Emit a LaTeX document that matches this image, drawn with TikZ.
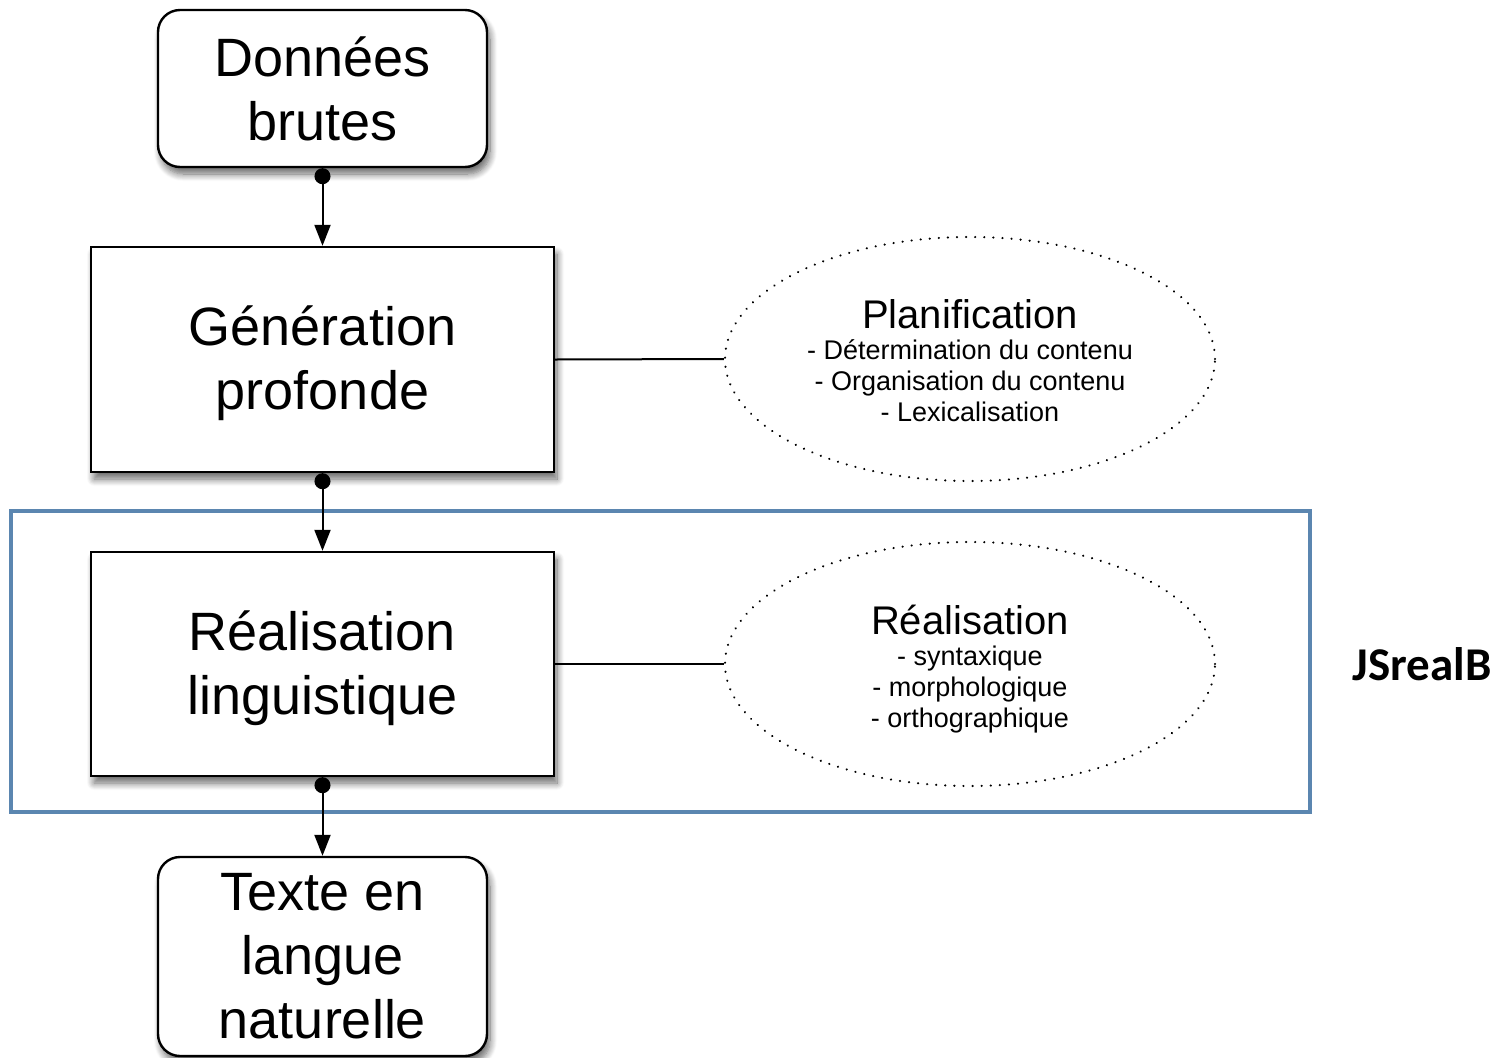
\documentclass[tikz,border=0pt]{standalone}
\usepackage{fontspec}
\setmainfont{Liberation Sans}
\newfontfamily\carlito{Carlito}
\usetikzlibrary{arrows.meta,shapes.geometric,shadows.blur}
\definecolor{frameblue}{HTML}{5B86B0}
\begin{document}
\begin{tikzpicture}[x=1pt,y=-1pt,
  bigtxt/.style={font=\fontsize{54}{64}\selectfont, align=center},
  shd/.style={blur shadow={shadow blur steps=10, shadow xshift=3pt, shadow yshift=-7pt, shadow blur radius=7pt, shadow opacity=60}},
  rbox/.style={draw, line width=2.4pt, rounded corners=22pt, fill=white, shd, bigtxt, inner sep=0pt},
  sbox/.style={draw, line width=2.4pt, fill=white, shd, bigtxt, inner sep=0pt},
  ell/.style={ellipse, draw, line width=2.3pt, dash pattern=on 0.1pt off 9pt, line cap=round, minimum width=490pt, minimum height=244pt, inner sep=0pt},
  etxt/.style={font=\fontsize{27}{31}\selectfont, align=center, inner sep=0pt},
  flow/.style={line width=2pt, {Circle[length=16pt]}-{Triangle[width=16pt,length=21pt]}},
  link/.style={line width=2pt}
]
\useasboundingbox (0,0) rectangle (1508,1058);
\draw[frameblue, line width=4pt] (11,511) rectangle (1310,812);

\node[rbox, minimum width=329pt, minimum height=157pt] (b1) at (322.5,88.5) {Données\\brutes};
\node[sbox, minimum width=463pt, minimum height=225pt] (b2) at (322.5,359.5) {};
\node[bigtxt, inner sep=0pt] (l2) at (322.5,363.5) {Génération\\profonde};
\node[sbox, minimum width=463pt, minimum height=224pt] (b3) at (322.5,664) {};
\node[bigtxt, inner sep=0pt] (l3) at (322.5,668) {Réalisation\\linguistique};
\node[rbox, minimum width=329pt, minimum height=199pt] (b4) at (322.5,956.5) {Texte en\\langue\\naturelle};

\node[ell] (e1) at (970,359) {};
\node[etxt] (t1) at (970,361) {{\fontsize{40}{31}\selectfont Planification}\\- Détermination du contenu\\- Organisation du contenu\\- Lexicalisation};
\node[ell] (e2) at (970,664) {};
\node[etxt] (t2) at (970,669) {{\fontsize{40}{31}\selectfont Réalisation}\\- syntaxique\\- morphologique\\- orthographique};

\node[font=\carlito\bfseries\fontsize{47}{50}\selectfont, inner sep=0pt] (js) at (1422,664) {JSrealB};

\draw[flow] (b1.south) -- (b2.north);
\draw[flow] (b2.south) -- (b3.north);
\draw[flow] (b3.south) -- (b4.north);
\draw[link] (b2.east) -- (e1.west);
\draw[link] (b3.east) -- (e2.west);
\end{tikzpicture}
\end{document}
